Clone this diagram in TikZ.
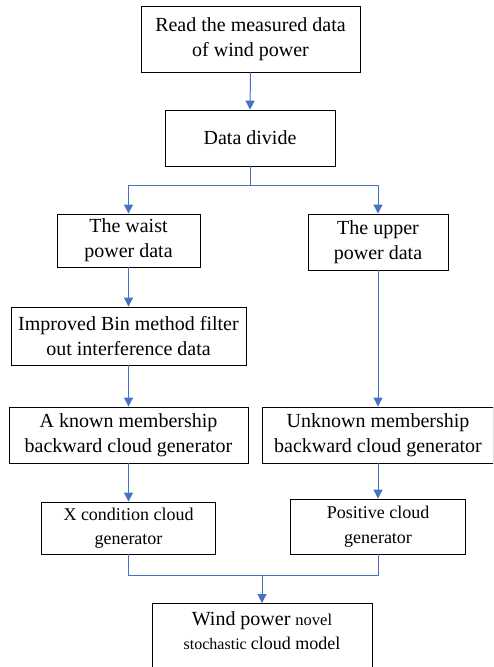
\documentclass[tikz,border=0pt]{standalone}
\usepackage{fontspec}
\setmainfont{Liberation Serif}[Ligatures=TeX]
\newfontfamily\tnr{Liberation Serif}[Ligatures=TeX]
\usetikzlibrary{arrows.meta}
\definecolor{lineblue}{HTML}{4472C4}
\tikzset{
  box/.style={draw=black, line width=0.9pt, rectangle, inner sep=0pt, align=center,
    font=\tnr\fontsize{20}{25}\selectfont},
  smallbox/.style={box, font=\tnr\fontsize{18}{24.5}\selectfont},
  conn/.style={draw=lineblue, line width=1pt},
  arr/.style={conn, -{Triangle[width=9pt,length=9pt]}}
}
\begin{document}
\begin{tikzpicture}[x=1pt,y=-1pt]
\useasboundingbox (0,0) rectangle (493,667);
\clip (0,0) rectangle (493,667);
\node[box, minimum width=219pt, minimum height=66pt] (read) at (250.5,39) {Read the measured data\\of wind power};
\node[box, minimum width=170pt, minimum height=56pt] (divide) at (250,138) {Data divide};
\node[box, minimum width=143pt, minimum height=53pt] (waist) at (128.5,240.5) {The waist\\power data};
\node[box, minimum width=140pt, minimum height=56pt] (upper) at (378,242) {The upper\\power data};
\node[box, minimum width=235pt, minimum height=58pt] (bin) at (128.5,336) {Improved Bin method filter\\out interference data};
\node[box, minimum width=239pt, minimum height=56pt] (known) at (128.5,435) {A known membership\\backward cloud generator};
\node[box, minimum width=231pt, minimum height=56pt] (unknown) at (378,435) {Unknown membership\\backward cloud generator};
\node[smallbox, minimum width=174pt, minimum height=52pt] (xcond) at (128.5,528) {X condition cloud\\generator};
\node[smallbox, minimum width=175pt, minimum height=55pt] (positive) at (378,526.5) {Positive cloud\\generator};
\node[box, minimum width=220pt, minimum height=90pt, anchor=north] (final) at (262,603) {};
\node[align=center, anchor=north, inner sep=0pt, font=\tnr\fontsize{18}{24.5}\selectfont] (finaltext) at (262,611)
  {{\fontsize{20}{24.5}\selectfont Wind power }{\fontsize{16.5}{24.5}\selectfont novel}\\
   {\fontsize{16}{24.5}\selectfont stochastic }cloud model};
\coordinate (split) at (250,185);
\coordinate (merge) at (262,575);
\draw[arr] (read.south) -- (divide.north);
\draw[conn] (divide.south) -- (split);
\draw[arr] (split) -| (waist.north);
\draw[arr] (split) -| (upper.north);
\draw[arr] (waist.south) -- (bin.north);
\draw[arr] (bin.south) -- (known.north);
\draw[arr] (known.south) -- (xcond.north);
\draw[arr] (upper.south) -- (unknown.north);
\draw[arr] (unknown.south) -- (positive.north);
\draw[conn] (xcond.south) |- (merge);
\draw[conn] (positive.south) |- (merge);
\draw[arr] (merge) -- (final.north);
\end{tikzpicture}
\end{document}
